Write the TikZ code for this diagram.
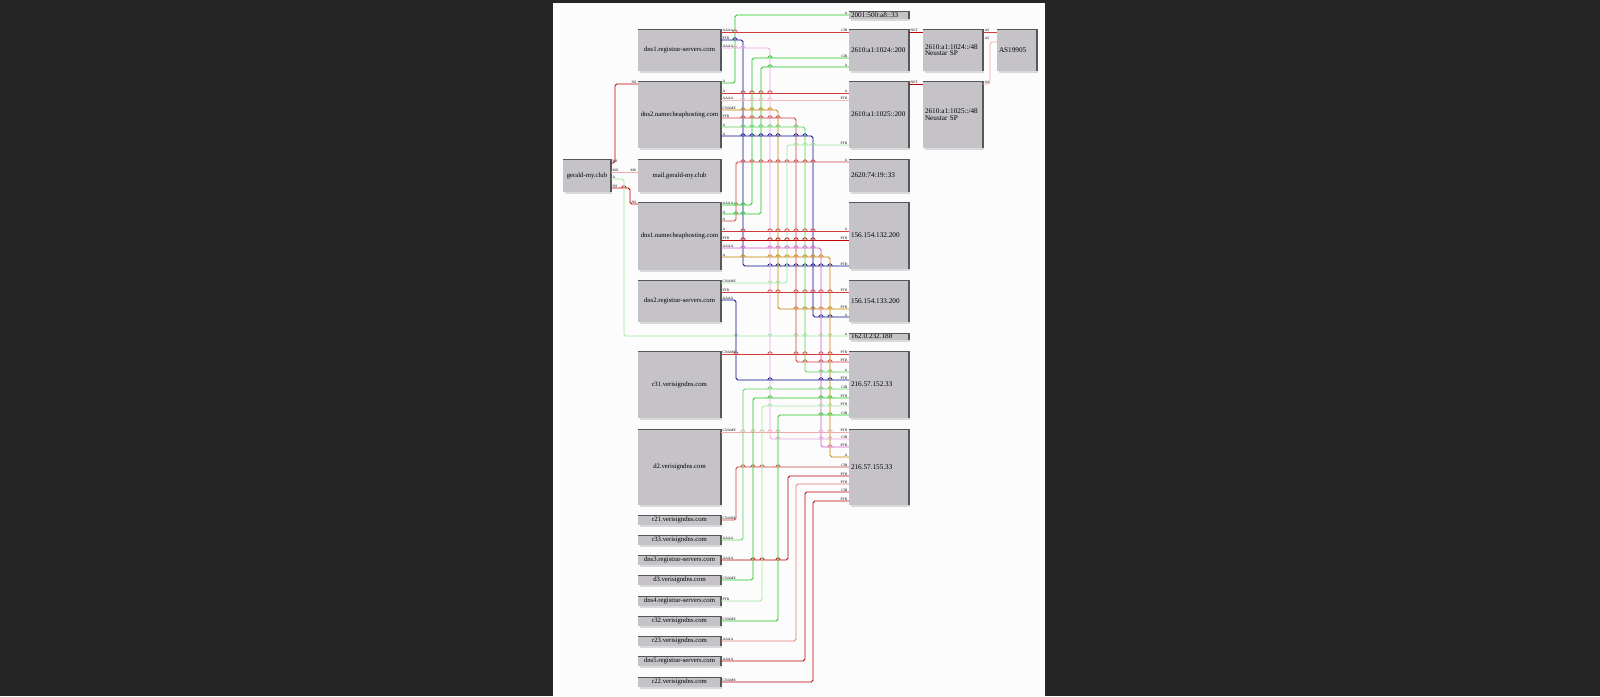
\documentclass[tikz,border=0pt]{standalone}
\usepackage{fontspec}
\setmainfont{Liberation Serif}
\definecolor{bgdark}{RGB}{38,38,38}
\definecolor{pagewhite}{RGB}{252,252,252}
\definecolor{boxfill}{RGB}{197,195,199}
\definecolor{boxedge}{RGB}{88,88,88}
\definecolor{eRed}{RGB}{210,60,60}
\definecolor{eDRed}{RGB}{190,0,0}
\definecolor{ePink}{RGB}{240,170,170}
\definecolor{eLRed}{RGB}{230,120,120}
\definecolor{eGreen}{RGB}{30,200,30}
\definecolor{eMGreen}{RGB}{90,210,90}
\definecolor{eLGreen}{RGB}{160,230,160}
\definecolor{eBlue}{RGB}{10,10,140}
\definecolor{eOrange}{RGB}{200,130,0}
\definecolor{eMag}{RGB}{210,90,200}
\tikzset{
 box/.style={fill=boxfill, inner sep=0pt, outer sep=0pt, anchor=north west,
   font=\fontsize{6.7}{7.5}\selectfont, align=center},
 ipbox/.style={box, font=\fontsize{7.2}{8}\selectfont, align=left},
 elab/.style={font=\fontsize{3.6}{4}\selectfont, inner sep=0.3pt},
 edgeline/.style={line width=0.9pt, rounded corners=1.8pt},
}
\newcounter{lab}
\def\vlist{735/15/83, 752/58/205, 761/67/214, 778/110/309, 796/118/362, 805/127/372,
 813/136/317, 787/145/283, 736/162/221, 821/248/447, 830/257/457, 743/40/266,
 736/300/380, 624/179/336, 770/48/439, 736/467/520, 743/389/540, 788/476/560,
 753/398/580, 762/406/601, 778/415/621, 796/484/641, 805/492/661, 813/501/682,
 615/84/163, 630/188/204}
\newcommand\boxdeco[1]{%
 \draw[gray!30, line width=1.4pt] ([xshift=1.5pt,yshift=-1pt]#1.south west) -- ([xshift=0.7pt,yshift=-1pt]#1.south east);
 \draw[boxedge, line width=0.6pt] (#1.north west) -- (#1.north east);
 \draw[boxedge, line width=1.3pt] (#1.north east) -- (#1.south east);}
% node: name, x1, y1, x2, y2, text (centred)
\newcommand\bx[6]{%
 \node[box, minimum width={(#4-#2)*1pt}, minimum height={(#5-#3)*1pt}] (#1) at (#2,#3) {#6};
 \boxdeco{#1}}
% node with left-aligned text
\newcommand\bxl[6]{%
 \node[ipbox, text width={(#4-#2-4)*1pt}, inner xsep=2pt, minimum height={(#5-#3)*1pt}] (#1) at (#2,#3) {#6};
 \boxdeco{#1}}
\newcommand\tl[3]{\stepcounter{lab}\node[elab,anchor=south west] (tl\thelab) at (#1+1.2,#2) {#3};}
\newcommand\hl[3]{\stepcounter{lab}\node[elab,anchor=south east] (hl\thelab) at (#1-1.2,#2) {#3};}
% hops: y, x1, x2, colour
\newcommand\hops[4]{%
 \foreach \vx/\va/\vb in \vlist {
  \pgfmathtruncatemacro\hit{and(and(\vx>#2+2,\vx<#3-2),and(#1>\va+1,#1<\vb-1))}
  \ifnum\hit=1
   \draw[#4, line width=0.7pt] (\vx-2.2,#1) .. controls (\vx-2.2,#1-2.9) and (\vx+2.2,#1-2.9) .. (\vx+2.2,#1);
  \fi
 }}
% bent edge: colour, src, srcx, ys, xv, tgt, yt, tail, head
\newcommand\bedge[9]{%
 \coordinate (hA) at (0,#4); \coordinate (hB) at (0,#7);
 \draw[edgeline,#1] (#2.east |- hA) -- (#5,#4) -- (#5,#7) -- (#6.west |- hB);
 \hops{#4}{#3}{#5}{#1}\hops{#7}{#5}{849}{#1}
 \tl{#3}{#4}{#8}\hl{849}{#7}{#9}}
% straight edge: colour, src, srcx, tgt, tgtx, y, tail, head
\newcommand\sedge[8]{%
 \coordinate (hA) at (0,#6);
 \draw[edgeline,#1] (#2.east |- hA) -- (#4.west |- hA);
 \hops{#6}{#3}{#5}{#1}
 \tl{#3}{#6}{#7}\hl{#5}{#6}{#8}}
\begin{document}
\begin{tikzpicture}[x=1pt,y=-1pt]
\useasboundingbox (0,0) rectangle (1600,696);
\fill[bgdark] (0,0) rectangle (1600,696);
\fill[pagewhite] (553,3) rectangle (1045,696);

% ---------- nodes ----------
\bx{gerald}{563}{159}{611}{192}{gerald-my.club}
\bx{dnsAr}{638}{29}{721}{71}{dns1.registrar-servers.com}
\bx{dnsBnc}{638}{81}{721}{148}{dns2.namecheaphosting.com}
\bx{mail}{638}{159}{721}{192}{mail.gerald-my.club}
\bx{dnsAnc}{638}{202}{721}{270}{dns1.namecheaphosting.com}
\bx{dnsBr}{638}{280}{721}{322}{dns2.registrar-servers.com}
\bx{rA}{638}{351}{721}{418}{r31.verisigndns.com}
\bx{dB}{638}{429}{721}{505}{d2.verisigndns.com}
\bx{rB}{638}{515}{721}{525}{r21.verisigndns.com}
\bx{rC}{638}{535}{721}{545}{r33.verisigndns.com}
\bx{dnsCr}{638}{555}{721}{565}{dns3.registrar-servers.com}
\bx{dC}{638}{575}{721}{585}{d3.verisigndns.com}
\bx{dnsDr}{638}{596}{721}{606}{dns4.registrar-servers.com}
\bx{rD}{638}{616}{721}{626}{r32.verisigndns.com}
\bx{rE}{638}{636}{721}{646}{r23.verisigndns.com}
\bx{dnsEr}{638}{656}{721}{666}{dns5.registrar-servers.com}
\bx{rF}{638}{677}{721}{687}{r22.verisigndns.com}

\bxl{ipA}{849}{11}{909}{19}{2001:500:a8::33}
\bxl{ipB}{849}{29}{909}{71}{2610:a1:1024::200}
\bxl{ipC}{849}{81}{909}{148}{2610:a1:1025::200}
\bxl{ipD}{849}{159}{909}{192}{2620:74:19::33}
\bxl{ipE}{849}{202}{909}{269}{156.154.132.200}
\bxl{ipF}{849}{280}{909}{322}{156.154.133.200}
\bxl{ipG}{849}{333}{909}{340}{162.0.232.188}
\bxl{ipH}{849}{351}{909}{418}{216.57.152.33}
\bxl{ipI}{849}{429}{909}{505}{216.57.155.33}
\bxl{spA}{923}{29}{983}{71}{2610:a1:1024::/48\\[-1.5pt]Neustar SP}
\bxl{spB}{923}{81}{983}{148}{2610:a1:1025::/48\\[-1.5pt]Neustar SP}
\bxl{asA}{997}{29}{1037}{71}{AS19905}

% ---------- gerald-my.club edges ----------
\coordinate (g1) at (0,163); \coordinate (g2) at (0,84);
\draw[edgeline,eDRed] (gerald.east |- g1) -- (615,163) -- (615,84) -- (dnsBnc.west |- g2);
\tl{611}{163}{NS}\hl{638}{84}{NS}
\coordinate (g3) at (0,172);
\draw[edgeline,ePink] (gerald.east |- g3) -- (mail.west |- g3);
\tl{611}{172}{MX}\hl{638}{172}{MX}
\coordinate (g4) at (0,188); \coordinate (g5) at (0,204);
\draw[edgeline,eDRed] (gerald.east |- g4) -- (630,188) -- (630,204) -- (dnsAnc.west |- g5);
\hops{188}{611}{630}{eDRed}
\tl{611}{188}{NS}\hl{638}{204}{NS}
\bedge{eLGreen}{gerald}{611}{179}{624}{ipG}{336}{A}{A}

% ---------- name server edges ----------
\bedge{eGreen}{dnsBnc}{721}{83}{735}{ipA}{15}{A}{A}
\sedge{eRed}{dnsAr}{721}{ipB}{849}{32}{AAAA}{CIR}
\bedge{eBlue}{dnsAr}{721}{40}{743}{ipE}{266}{PTR}{PTR}
\bedge{eMag!55}{dnsAr}{721}{48}{770}{ipI}{439}{AAAA}{CIR}
\bedge{eGreen}{dnsAnc}{721}{205}{752}{ipB}{58}{AAAA}{CIR}
\bedge{eGreen}{dnsAnc}{721}{214}{761}{ipB}{67}{A}{A}
\sedge{eRed}{dnsBnc}{721}{ipC}{849}{93}{A}{A}
\sedge{eRed!35}{dnsBnc}{721}{ipC}{849}{100}{AAAA}{PTR}
\bedge{eOrange}{dnsBnc}{721}{110}{778}{ipF}{309}{CNAME}{PTR}
\bedge{eRed}{dnsBnc}{721}{118}{796}{ipH}{362}{PTR}{PTR}
\bedge{eMGreen}{dnsBnc}{721}{127}{805}{ipH}{372}{A}{A}
\bedge{eBlue}{dnsBnc}{721}{136}{813}{ipF}{317}{A}{A}
\bedge{eLGreen}{dnsBr}{721}{283}{787}{ipC}{145}{CNAME}{PTR}
\bedge{eRed}{dnsAnc}{721}{221}{736}{ipD}{162}{A}{A}
\sedge{eRed}{dnsAnc}{721}{ipE}{849}{231}{A}{A}
\sedge{eDRed}{dnsAnc}{721}{ipE}{849}{240}{PTR}{PTR}
\bedge{eMag}{dnsAnc}{721}{248}{821}{ipI}{447}{AAAA}{PTR}
\bedge{eOrange}{dnsAnc}{721}{257}{830}{ipI}{457}{A}{A}
\sedge{eRed}{dnsBr}{721}{ipF}{849}{292}{PTR}{PTR}
\bedge{eBlue}{dnsBr}{721}{300}{736}{ipH}{380}{AAAA}{PTR}

% ---------- verisign edges ----------
\sedge{eRed}{rA}{721}{ipH}{849}{354}{CNAME}{PTR}
\sedge{ePink}{dB}{721}{ipI}{849}{432}{CNAME}{PTR}
\bedge{eRed}{rB}{721}{520}{736}{ipI}{467}{CNAME}{CIR}
\bedge{eMGreen}{rC}{721}{540}{743}{ipH}{389}{AAAA}{CIR}
\bedge{eDRed}{dnsCr}{721}{560}{788}{ipI}{476}{AAAA}{PTR}
\bedge{eGreen}{dC}{721}{580}{753}{ipH}{398}{CNAME}{PTR}
\bedge{eLGreen}{dnsDr}{721}{601}{762}{ipH}{406}{PTR}{PTR}
\bedge{eGreen}{rD}{721}{621}{778}{ipH}{415}{CNAME}{CIR}
\bedge{eLRed}{rE}{721}{641}{796}{ipI}{484}{AAAA}{PTR}
\bedge{eDRed}{dnsEr}{721}{661}{805}{ipI}{492}{AAAA}{CIR}
\bedge{eDRed}{rF}{721}{682}{813}{ipI}{501}{CNAME}{PTR}

% ---------- network edges ----------
\sedge{eDRed}{ipB}{909}{spA}{923}{32}{NET}{}
\sedge{eDRed}{ipC}{909}{spB}{923}{84}{NET}{}
\sedge{eRed}{spA}{983}{asA}{997}{32}{AS}{}
\coordinate (n1) at (0,84); \coordinate (n2) at (0,42);
\draw[edgeline,ePink] (spB.east |- n1) -- (990,84) -- (990,42) -- (asA.west |- n2);
\tl{983}{84}{AS}\tl{983}{40}{AS}
\end{tikzpicture}
\end{document}
